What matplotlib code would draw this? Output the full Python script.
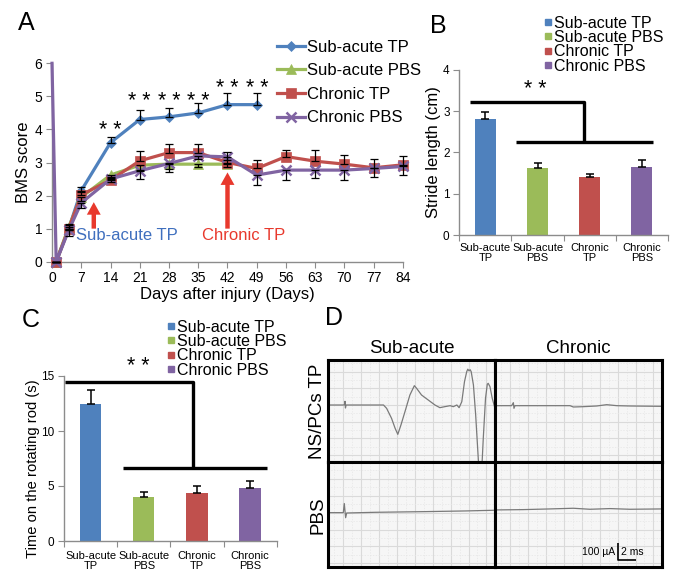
"""
Four-panel figure: BMS time course (A), stride length (B),
rotarod time (C) and evoked potential traces (D).
"""
import numpy as np
import matplotlib
matplotlib.use("Agg")
import matplotlib.pyplot as plt
from matplotlib.lines import Line2D
from matplotlib.ticker import MultipleLocator

plt.rcParams.update({
    "font.family": ["Liberation Sans", "DejaVu Sans"],
    "axes.edgecolor": "#8C8C8C",
    "xtick.color": "#8C8C8C", "ytick.color": "#8C8C8C",
    "xtick.labelcolor": "black", "ytick.labelcolor": "black",
    "axes.linewidth": 1.0,
})

W, H = 685, 579
fig = plt.figure(figsize=(W / 100, H / 100), dpi=100)


def px_axes(l, t, r, b):
    return fig.add_axes([l / W, 1 - b / H, (r - l) / W, (b - t) / H])


# ─── Data ────────────────────────────────────────────────────────────────
GROUPS = ["Sub-acute TP", "Sub-acute PBS", "Chronic TP", "Chronic PBS"]
COLORS = ["#4F81BD", "#9BBB59", "#C0504D", "#8064A2"]
MARKERS = ["D", "^", "s", "x"]
MSIZES = [5.5, 6.5, 7.5, 6.5]

# A: BMS score by day after injury
sa_tp_days = [1, 4, 7, 14, 21, 28, 35, 42, 49]
sa_tp_bms = [0, 1.0, 2.15, 3.6, 4.3, 4.38, 4.5, 4.75, 4.75]
sa_tp_err = [0, 0.15, 0.1, 0.16, 0.29, 0.28, 0.29, 0.34, 0.34]

sa_pbs_days = [1, 4, 7, 14, 21, 28, 35, 42]
sa_pbs_bms = [0, 1.05, 1.95, 2.62, 2.92, 2.95, 2.95, 2.95]
sa_pbs_err = [0, 0.1, 0.1, 0.1, 0.15, 0.15, 0.1, 0.1]

ch_tp_days = [1, 4, 7, 14, 21, 28, 35, 42, 49, 56, 63, 70, 77, 84]
ch_tp_bms = [0, 1.0, 2.02, 2.47, 3.05, 3.3, 3.3, 3.0, 2.82, 3.18, 3.04, 2.95, 2.84, 2.93]
ch_tp_err = [0, 0.1, 0.1, 0.1, 0.3, 0.26, 0.26, 0.32, 0.27, 0.2, 0.34, 0.28, 0.28, 0.26]

ch_pbs_days = [0, 1, 4, 7, 14, 21, 28, 35, 42, 49, 56, 63, 70, 77, 84]
ch_pbs_bms = [6, 0, 0.95, 1.78, 2.5, 2.75, 2.97, 3.2, 3.17, 2.62, 2.77, 2.77, 2.77, 2.82, 2.88]
ch_pbs_err = [0, 0, 0.17, 0.15, 0.1, 0.25, 0.25, 0.1, 0.1, 0.3, 0.3, 0.25, 0.3, 0.25, 0.27]

STAR_DAYS = [14, 21, 28, 35, 42, 49]
STAR_Y = [4.1, 4.95, 4.95, 4.95, 5.35, 5.35]

# B / C: bar charts
BAR_LABELS = ["Sub-acute\nTP", "Sub-acute\nPBS", "Chronic\nTP", "Chronic\nPBS"]
stride_cm = [2.8, 1.62, 1.4, 1.64]
stride_err = [0.18, 0.12, 0.09, 0.18]
rotarod_s = [12.5, 3.97, 4.33, 4.79]
rotarod_err = [1.2, 0.5, 0.67, 0.69]

# D: evoked traces (ms, uA)
tl_t = [0.3, 2.0, 2.15, 2.2, 2.25, 2.32, 6.5, 6.85, 7.4, 7.8, 8.1, 8.45, 8.9, 9.45,
        9.95, 10.2, 10.75, 11.5, 12.25, 12.8, 13.35, 13.95, 14.3, 14.7, 14.95, 15.25,
        15.55, 15.8, 15.92, 16.05, 16.18, 16.3, 16.55, 16.8, 17.0, 17.2, 17.45, 17.65,
        17.9, 18.1, 18.2, 18.4, 18.65, 18.96]
tl_v = [0, 0, 2, 22, -18, 0, 0, -20, -80, -140, -176, -120, -40, 60,
        116, 100, 60, 30, 0, -16, -10, -4, -10, 0, -16, 20,
        140, 200, 215, 205, 212, 200, 120, -60, -240, -420, -420, -200,
        40, 125, 130, 110, 40, -20]
tr_t = [0.3, 2.16, 2.35, 2.42, 2.53, 8.68, 9.05, 10.17, 11.66, 12.78, 13.9, 15.38, 18.92]
tr_v = [-4, -4, 14, -20, -4, -4, -12, -10, -6, 2, -4, -6, -8]
bl_t = [0.34, 2.01, 2.12, 2.27, 2.39, 5.55, 11.14, 15.61, 18.77]
bl_v = [0, 0, 54, -30, -2, 2, 6, 10, 14]
br_t = [0.3, 3.47, 6.44, 9.05, 10.91, 13.15, 15.38, 18.92]
br_v = [16, 18, 22, 26, 20, 24, 20, 22]

STAR_KW = dict(fontsize=15.5, ha="center", va="center", zorder=10)

# ─── Panel A ─────────────────────────────────────────────────────────────
axA = px_axes(52, 63.3, 403, 261.7)
series = [
    (sa_tp_days, sa_tp_bms, sa_tp_err, "up"),
    (sa_pbs_days, sa_pbs_bms, sa_pbs_err, "down"),
    (ch_tp_days, ch_tp_bms, ch_tp_err, "up"),
    (ch_pbs_days, ch_pbs_bms, ch_pbs_err, "down"),
]
handles = []
for i, (d, v, e, side) in enumerate(series):
    d, v, e = np.array(d), np.array(v), np.array(e)
    start = 1 if i == 3 else 0
    ln, = axA.plot(d, v, color=COLORS[i], lw=2.3, marker=MARKERS[i],
                   ms=MSIZES[i], mew=1.8 if MARKERS[i] == "x" else 0.5,
                   mec=COLORS[i], markevery=list(range(start, len(d))),
                   clip_on=False, zorder=3 + i, label=GROUPS[i])
    handles.append(ln)
    zeros = np.zeros_like(e)
    yerr = [zeros, e] if side == "up" else [e, zeros]
    axA.errorbar(d[start:], v[start:], yerr=[y[start:] for y in yerr], fmt="none",
                 ecolor="black", elinewidth=0.9, capsize=2.8, capthick=0.9,
                 zorder=8, clip_on=False)

for x, y in zip(STAR_DAYS, STAR_Y):
    axA.text(x, y - 0.12, "* *", **STAR_KW)

ARROW_RED = "#E8392D"
for xa, ytip in [(10, 1.8), (42, 2.7)]:
    axA.annotate("", xy=(xa, ytip), xytext=(xa, 1.0),
                 arrowprops=dict(facecolor=ARROW_RED, edgecolor="none",
                                 width=3.2, headwidth=10, headlength=9, shrink=0))
axA.text(5.7, 0.8, "Sub-acute TP", color="#3F6FBE", fontsize=12, ha="left", va="center")
axA.text(35.9, 0.8, "Chronic TP", color=ARROW_RED, fontsize=12, ha="left", va="center")

axA.set_xlim(0, 84)
axA.set_ylim(0, 6)
axA.set_xticks(np.arange(0, 85, 7))
axA.set_yticks(range(7))
axA.spines[["top", "right"]].set_visible(False)
axA.tick_params(labelsize=10, length=4, pad=3)
axA.set_xlabel("Days after injury (Days)", fontsize=12, labelpad=1)
axA.set_ylabel("BMS score", fontsize=12)
axA.yaxis.set_label_coords(-0.06, 0.5)
fig.legend(handles, GROUPS, loc="upper left", bbox_to_anchor=(276.5 / W, 1 - 39.5 / H),
           frameon=False, borderpad=0, borderaxespad=0, handlelength=1.7,
           handletextpad=0.15, labelspacing=0.52, fontsize=12)


# ─── Panels B and C ──────────────────────────────────────────────────────
def bar_panel(ax, vals, errs, ylim, ystep, ylabel, ylabel_size, xpad,
              bracket_hi, bracket_lo, star_xy):
    x = np.arange(len(vals))
    ax.bar(x, vals, width=0.4, color=COLORS, zorder=2)
    ax.errorbar(x, vals, yerr=[np.zeros(len(errs)), errs], fmt="none",
                ecolor="black", elinewidth=1.1, capsize=3.2, capthick=1.1, zorder=3)
    ax.set_xlim(-0.5, 3.5)
    ax.set_ylim(*ylim)
    ax.set_yticks(np.arange(ylim[0], ylim[1] + 0.1, ystep))
    ax.set_xticks(np.arange(-0.5, 3.6, 1.0))
    ax.set_xticklabels([])
    ax.set_xticks(x, minor=True)
    ax.set_xticklabels(BAR_LABELS, minor=True, fontsize=8, linespacing=1.0)
    ax.tick_params(axis="x", which="minor", length=0, pad=xpad)
    ax.tick_params(axis="x", which="major", length=4)
    ax.tick_params(axis="y", labelsize=8.5, length=4, pad=3)
    ax.spines[["top", "right"]].set_visible(False)
    ax.set_ylabel(ylabel, fontsize=ylabel_size)
    (x0, x1, xv, y_hi), (lx0, lx1, y_lo) = bracket_hi, bracket_lo
    ax.plot([x0, xv, xv], [y_hi, y_hi, y_lo], color="black", lw=2.4,
            clip_on=False, solid_capstyle="butt", zorder=4)
    ax.plot([lx0, lx1], [y_lo, y_lo], color="black", lw=2.4,
            clip_on=False, solid_capstyle="butt", zorder=4)
    ax.text(*star_xy, "* *", **STAR_KW)


def bar_legend(x_left, y_top):
    hs = [Line2D([], [], ls="none", marker="s", ms=4.2, color=c, mec=c) for c in COLORS]
    fig.legend(hs, GROUPS, loc="upper left", bbox_to_anchor=(x_left / W, 1 - y_top / H),
               frameon=False, borderpad=0, borderaxespad=0, handlelength=0.4,
               handletextpad=0.15, labelspacing=-0.04, fontsize=11.5)


axB = px_axes(459.3, 70, 668, 235)
bar_panel(axB, stride_cm, stride_err, (0, 4), 1, "Stride length (cm)", 12, 6,
          (-0.3, 1.89, 1.89, 3.22), (0.58, 3.21, 2.26), (0.95, 3.63 - 0.1))
axB.yaxis.set_label_coords(-0.088, 0.5)
bar_legend(545, 15.5)

axC = px_axes(64, 376, 276.7, 541)
bar_panel(axC, rotarod_s, rotarod_err, (0, 15), 5, "Time on the rotating rod (s)", 10.6, 7.5,
          (-0.48, 1.92, 1.92, 14.48), (0.615, 3.31, 6.67), (0.89, 16.2 - 0.36))
axC.yaxis.set_label_coords(-0.115, 0.44)
bar_legend(168, 319.5)

# ─── Panel D ─────────────────────────────────────────────────────────────
cells = [
    ((328, 360, 495, 462), tl_t, tl_v, (-342, 270)),
    ((495, 360, 662, 462), tr_t, tr_v, (-342, 270)),
    ((328, 462, 495, 567), bl_t, bl_v, (-322, 300)),
    ((495, 462, 662, 567), br_t, br_v, (-322, 300)),
]
d_axes = []
for (l, t, r, b), tt, vv, yl in cells:
    ax = px_axes(l, t, r, b)
    ax.set_facecolor("#F6F6F6")
    ax.plot(tt, vv, color="#7A7A7A", lw=0.9)
    ax.set_xlim(0.3, 18.96)
    ax.set_ylim(*yl)
    ax.xaxis.set_major_locator(MultipleLocator(2))
    ax.xaxis.set_minor_locator(MultipleLocator(1))
    ax.yaxis.set_major_locator(MultipleLocator(100))
    ax.yaxis.set_minor_locator(MultipleLocator(50))
    ax.grid(which="major", color="#DADADA", lw=0.8)
    ax.grid(which="minor", color="#E6E6E6", lw=0.5, ls=(0, (2, 2)))
    ax.set_axisbelow(True)
    ax.tick_params(which="both", length=0, labelbottom=False, labelleft=False)
    for s in ax.spines.values():
        s.set_color("black")
        s.set_linewidth(2.2)
    d_axes.append(ax)

d_axes[0].set_title("Sub-acute", fontsize=13.5, pad=5)
d_axes[1].set_title("Chronic", fontsize=13.5, pad=5)
fig.text(318 / W, 1 - 411 / H, "NS/PCs TP", rotation=90, fontsize=13.5,
         ha="center", va="center")
fig.text(318 / W, 1 - 515 / H, "PBS", rotation=90, fontsize=13.5,
         ha="center", va="center")

# scale bar
axS = d_axes[3]
axS.plot([14.08, 14.08, 16.08], [-180, -280, -280], color="black", lw=1.2,
         solid_capstyle="butt")
axS.text(13.7, -232, "100 µA", fontsize=7.5, ha="right", va="center")
axS.text(14.35, -232, "2 ms", fontsize=7.5, ha="left", va="center")

# ─── Panel letters ───────────────────────────────────────────────────────
for letter, x, y in [("A", 18, 30), ("B", 430, 33), ("C", 21.7, 327), ("D", 325, 325)]:
    fig.text(x / W, 1 - y / H, letter, fontsize=18, ha="left", va="baseline")

fig.savefig("out.png", dpi=100, facecolor="white")
plt.close(fig)
